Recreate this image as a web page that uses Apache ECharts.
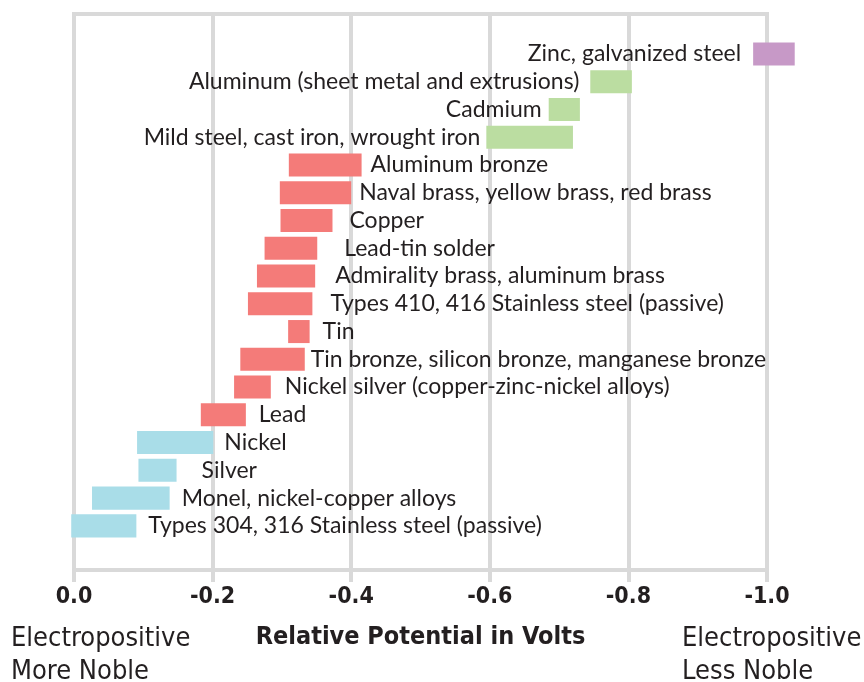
<!DOCTYPE html>
<html>
<head>
<meta charset="utf-8">
<script src="https://cdn.jsdelivr.net/npm/echarts@6/dist/echarts.min.js"></script>
<style>
html,body{margin:0;padding:0;background:#fff;}
#chart{width:864px;height:682px;}
</style>
</head>
<body>
<div id="chart"></div>
<script>
// ---------------- DATA ----------------
const materials = [
  'Zinc, galvanized steel',
  'Aluminum (sheet metal and extrusions)',
  'Cadmium',
  'Mild steel, cast iron, wrought iron',
  'Aluminum bronze',
  'Naval brass, yellow brass, red brass',
  'Copper',
  'Lead-tin solder',
  'Admirality brass, aluminum brass',
  'Types 410, 416 Stainless steel (passive)',
  'Tin',
  'Tin bronze, silicon bronze, manganese bronze',
  'Nickel silver (copper-zinc-nickel alloys)',
  'Lead',
  'Nickel',
  'Silver',
  'Monel, nickel-copper alloys',
  'Types 304, 316 Stainless steel (passive)'
];
// potential range (volts)
const potentialFrom = [-0.98, -0.745, -0.685, -0.595, -0.31, -0.297, -0.298, -0.275, -0.264, -0.251, -0.309, -0.24, -0.231, -0.183, -0.091, -0.093, -0.026, 0.004];
const potentialTo   = [-1.04, -0.805, -0.73, -0.72, -0.415, -0.40, -0.373, -0.351, -0.348, -0.344, -0.34, -0.333, -0.284, -0.248, -0.201, -0.148, -0.138, -0.09];
const groups = ['zinc','active','active','active',
  'copper','copper','copper','copper','copper','copper','copper','copper','copper','copper',
  'noble','noble','noble','noble'];
const xTicks = [0.0, -0.2, -0.4, -0.6, -0.8, -1.0];
const axisTitle = 'Relative Potential in Volts';
const leftNote = 'Electropositive\nMore Noble';
const rightNote = 'Electropositive\nLess Noble';

// ---------------- STYLE / LAYOUT ----------------
const groupStyle = {
  zinc:   { color: '#C799C7', side: 'left' },
  active: { color: '#BBDDA1', side: 'left' },
  copper: { color: '#F47B79', side: 'right' },
  noble:  { color: '#A9DDE8', side: 'right' }
};
// hand-placed gap between each bar and its label (px)
const labelGap = [12, 11, 7, 6, 9, 8, 17, 27, 20, 18, 13, 6, 14, 13, 11, 25, 12, 12];
const gridColor = '#d9d9d9';
const textColor = '#231f20';
const condensed = '"DejaVu Sans Condensed", "Liberation Sans Narrow", "DejaVu Sans", sans-serif';

const seriesData = materials.map((m, i) => [i, potentialFrom[i], potentialTo[i]]);

const chart = echarts.init(document.getElementById('chart'), null, {renderer: 'canvas'});
const tickStep = Math.abs(xTicks[1] - xTicks[0]);

chart.setOption({
  backgroundColor: '#fff',
  animation: false,
  title: [
    { text: leftNote, left: 11, top: 622, padding: 0,
      textStyle: { fontFamily: condensed, fontSize: 27, fontWeight: 'normal', lineHeight: 33, color: textColor } },
    { text: rightNote, left: 682, top: 622, padding: 0,
      textStyle: { fontFamily: condensed, fontSize: 27, fontWeight: 'normal', lineHeight: 33, color: textColor } }
  ],
  grid: {
    left: 74, right: 97, top: 14, bottom: 112,
    show: true, borderColor: gridColor, borderWidth: 4
  },
  xAxis: {
    type: 'value',
    inverse: true,
    min: Math.min(...xTicks),
    max: Math.max(...xTicks),
    interval: tickStep,
    position: 'bottom',
    axisLine: { show: true, onZero: false, lineStyle: { color: gridColor, width: 4 } },
    axisTick: { show: true, length: 12, lineStyle: { color: gridColor, width: 4 } },
    splitLine: { show: true, lineStyle: { color: gridColor, width: 4 } },
    axisLabel: {
      margin: 16,
      fontFamily: condensed, fontWeight: 'bold', fontSize: 23, color: textColor,
      formatter: v => (Math.abs(v) < 1e-9 ? 0 : v).toFixed(1)
    },
    name: axisTitle,
    nameLocation: 'middle',
    nameGap: 55,
    nameTextStyle: { fontFamily: condensed, fontWeight: 'bold', fontSize: 25, color: textColor }
  },
  yAxis: {
    type: 'value',
    inverse: true,
    min: -1.44,
    max: 18.59,
    show: false,
    splitLine: { show: false }
  },
  series: [{
    type: 'custom',
    clip: false,
    encode: { x: [1, 2], y: 0 },
    data: seriesData,
    renderItem: function (params, api) {
      const i = api.value(0);
      const a = api.coord([api.value(1), i]);
      const b = api.coord([api.value(2), i]);
      const h = api.size([0, 1])[1] * 0.83;
      const st = groupStyle[groups[i]];
      return {
        type: 'rect',
        shape: { x: Math.min(a[0], b[0]), y: a[1] - h / 2, width: Math.abs(b[0] - a[0]), height: h },
        style: { fill: st.color },
        textContent: {
          style: { text: materials[i], fontFamily: 'Lato, "Open Sans", sans-serif', fontSize: 23, fill: textColor }
        },
        textConfig: { position: st.side, distance: labelGap[i] }
      };
    }
  }]
});
</script>
</body>
</html>
